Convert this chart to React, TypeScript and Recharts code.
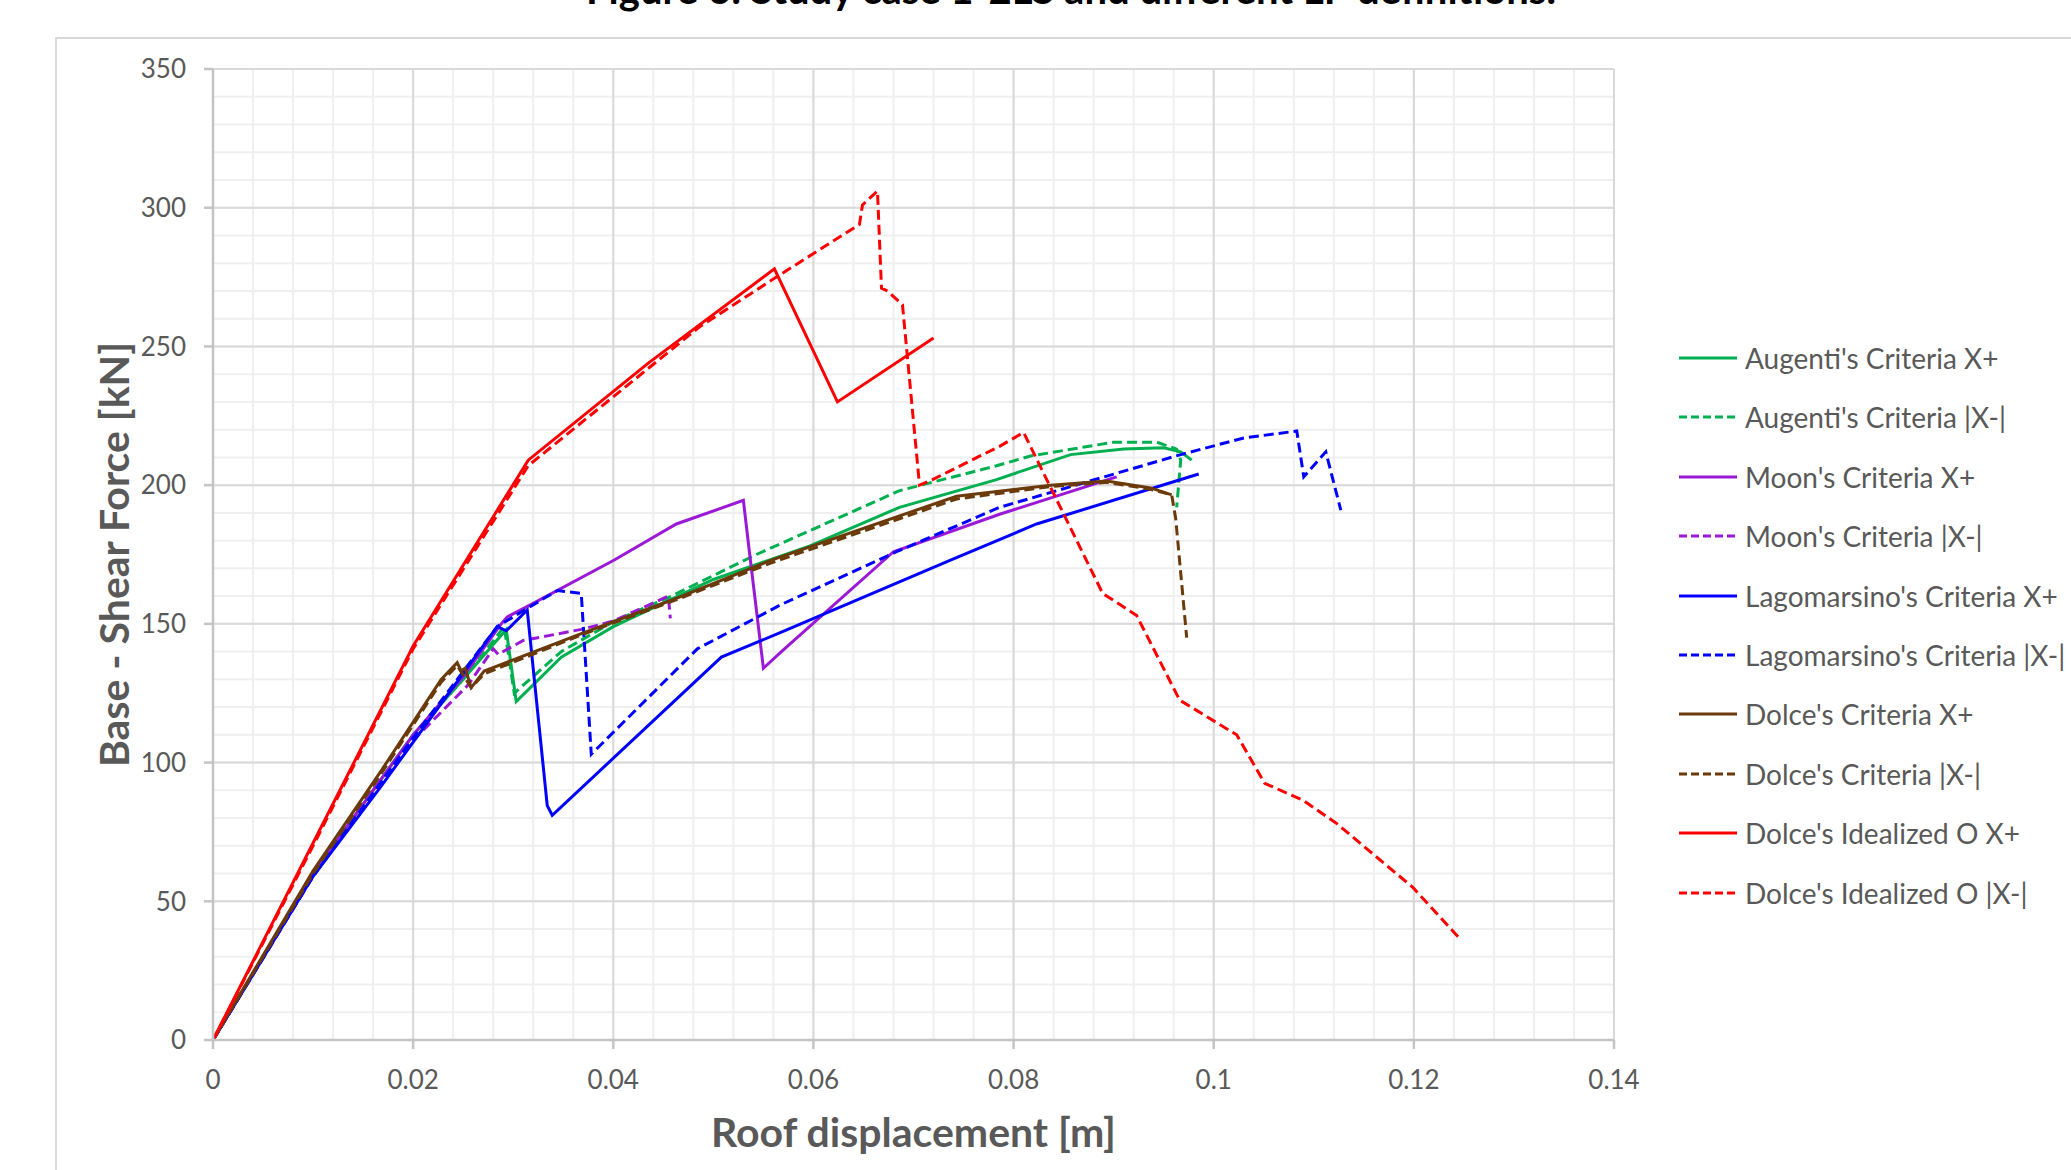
import { CartesianGrid, Line, LineChart, XAxis, YAxis } from 'recharts';

type Pt = [number, number];

// axis ticks
const xTicks = [0, 0.02, 0.04, 0.06, 0.08, 0.1, 0.12, 0.14];
const yTicks = [0, 50, 100, 150, 200, 250, 300, 350];

// pushover curves: [roof displacement m, base shear kN]
const augentiPos: Pt[] = [
  [0, 0], [0.01, 60], [0.02, 110], [0.025, 130], [0.0293, 148], [0.0303, 122],
  [0.0348, 138], [0.04, 149], [0.05, 166], [0.0596, 178], [0.0686, 192],
  [0.0783, 202], [0.0857, 211], [0.091, 213], [0.095, 213.5], [0.0967, 212],
  [0.0978, 209],
];
const augentiNeg: Pt[] = [
  [0, 0], [0.01, 60], [0.02, 110], [0.025, 130], [0.0291, 149], [0.0301, 125],
  [0.0348, 140], [0.0401, 151], [0.0458, 160], [0.0543, 175], [0.0686, 198],
  [0.0783, 207], [0.0817, 210.5], [0.09, 215.5], [0.0943, 215.5], [0.0963, 213],
  [0.0967, 209], [0.0963, 192],
];
const moonPos: Pt[] = [
  [0, 0], [0.01, 60], [0.02, 110], [0.025, 131], [0.0288, 150], [0.0294, 152.5],
  [0.0318, 157], [0.0401, 173], [0.0463, 186], [0.053, 194.5], [0.0536, 176],
  [0.055, 134], [0.0568, 140], [0.068, 176], [0.0786, 189.5], [0.0903, 203],
];
const moonNeg: Pt[] = [
  [0, 0], [0.01, 59], [0.02, 108], [0.0255, 128], [0.028, 141], [0.0285, 139],
  [0.031, 144], [0.0368, 148], [0.04, 151], [0.0455, 160], [0.0457, 152],
];
const lagoPos: Pt[] = [
  [0, 0], [0.01, 59], [0.0167, 91], [0.0284, 149], [0.0293, 147.5], [0.0314, 155],
  [0.0334, 84.5], [0.0339, 81], [0.0508, 138], [0.0568, 147], [0.0737, 173],
  [0.0823, 186], [0.0985, 204],
];
const lagoNeg: Pt[] = [
  [0, 0], [0.01, 59], [0.02, 109], [0.0284, 149], [0.0316, 156], [0.0344, 162],
  [0.0368, 161], [0.0378, 103], [0.0484, 141], [0.0568, 157], [0.0683, 176],
  [0.0786, 192], [0.0967, 211], [0.103, 217], [0.1083, 219.5], [0.109, 203],
  [0.1112, 212], [0.1127, 191],
];
const dolcePos: Pt[] = [
  [0, 0], [0.01, 61], [0.0168, 97], [0.0228, 130], [0.0244, 136], [0.0248, 133],
  [0.0252, 134], [0.0258, 127], [0.0271, 133], [0.0368, 146.5], [0.0458, 158.5],
  [0.0558, 173], [0.0743, 196], [0.0837, 200], [0.0893, 201.5], [0.0937, 199],
  [0.0958, 196.5],
];
const dolceNeg: Pt[] = [
  [0, 0], [0.01, 60], [0.0168, 96], [0.0228, 129], [0.0244, 135], [0.0258, 127],
  [0.0271, 132], [0.0368, 146], [0.0458, 158], [0.0558, 172], [0.0743, 195],
  [0.0837, 199.5], [0.0893, 201], [0.0937, 198.5], [0.0958, 196.5], [0.0962, 188],
  [0.0973, 145],
];
const idealPos: Pt[] = [
  [0, 0], [0.01, 71], [0.02, 142], [0.0315, 209], [0.0435, 244], [0.0561, 278],
  [0.0624, 230], [0.072, 253],
];
const idealNeg: Pt[] = [
  [0, 0], [0.01, 70], [0.02, 141], [0.0315, 207], [0.0486, 257], [0.0563, 275],
  [0.0646, 294], [0.0649, 301], [0.0664, 306], [0.0668, 271], [0.0674, 270],
  [0.0689, 265], [0.0706, 200], [0.0719, 202], [0.0786, 214], [0.081, 219],
  [0.0889, 161], [0.0923, 153], [0.0966, 122.5], [0.1023, 110], [0.1051, 92.5],
  [0.1089, 86.5], [0.1123, 78], [0.1156, 68], [0.1199, 55], [0.1246, 36.5],
];

const GREEN = '#00B050';
const PURPLE = '#9B19D6';
const BLUE = '#0000FF';
const BROWN = '#6B3A0B';
const RED = '#FF0000';

const series = [
  { name: "Augenti's Criteria X+", color: GREEN, dashed: false, pts: augentiPos },
  { name: "Augenti's Criteria |X-|", color: GREEN, dashed: true, pts: augentiNeg },
  { name: "Moon's Criteria X+", color: PURPLE, dashed: false, pts: moonPos },
  { name: "Moon's Criteria |X-|", color: PURPLE, dashed: true, pts: moonNeg },
  { name: "Lagomarsino's Criteria X+", color: BLUE, dashed: false, pts: lagoPos },
  { name: "Lagomarsino's Criteria |X-|", color: BLUE, dashed: true, pts: lagoNeg },
  { name: "Dolce's Criteria X+", color: BROWN, dashed: false, pts: dolcePos },
  { name: "Dolce's Criteria |X-|", color: BROWN, dashed: true, pts: dolceNeg },
  { name: "Dolce's Idealized O X+", color: RED, dashed: false, pts: idealPos },
  { name: "Dolce's Idealized O |X-|", color: RED, dashed: true, pts: idealNeg },
];

const W = 2071;
const H = 1170;
const FONT = 'Lato, "Open Sans", sans-serif';
const TEXT = '#595959';

// minor grid every 0.004 m / 10 kN
const minorX = Array.from({ length: 36 }, (_, i) => +(i * 0.004).toFixed(3));
const minorY = Array.from({ length: 36 }, (_, i) => i * 10);

const fmtX = (v: number) => (v === 0 ? '0' : String(+v.toFixed(2)));

const titleStyle = { fontSize: 41, fontWeight: 700, fill: TEXT, fontFamily: FONT };

export default function App() {
  return (
    <div
      style={{
        position: 'absolute',
        left: 0,
        top: 0,
        width: W,
        height: H,
        overflow: 'hidden',
        background: '#fff',
        fontFamily: FONT,
      }}
    >
      <div
        style={{
          position: 'absolute',
          left: 0,
          width: 2142,
          top: -31,
          textAlign: 'center',
          fontSize: 40,
          lineHeight: '40px',
          fontWeight: 700,
          color: '#000',
          whiteSpace: 'nowrap',
        }}
      >
        Figure 6: Study case 1-2LS and different LP definitions.
      </div>
      <div
        style={{
          position: 'absolute',
          left: 55,
          top: 37,
          width: W - 55,
          height: H - 37,
          borderTop: '2px solid #d9d9d9',
          borderLeft: '2px solid #d9d9d9',
          boxSizing: 'border-box',
        }}
      />
      <div style={{ position: 'absolute', left: 0, top: 0 }}>
        <LineChart
          width={W}
          height={H}
          margin={{ top: 69, right: 457, bottom: 70, left: 93 }}
        >
          <CartesianGrid
            stroke="#efefef"
            strokeWidth={2}
            horizontalValues={minorY}
            verticalValues={minorX}
          />
          <CartesianGrid
            stroke="#d9d9d9"
            strokeWidth={2}
            horizontalValues={yTicks}
            verticalValues={xTicks}
          />
          <XAxis
            type="number"
            dataKey="x"
            domain={[0, 0.14]}
            ticks={xTicks}
            tickFormatter={fmtX}
            height={60}
            tickSize={9}
            tickMargin={22}
            stroke="#c4c4c4"
            strokeWidth={2.5}
            tick={{ fontSize: 26, fill: TEXT, fontFamily: FONT }}
            label={{
              value: 'Roof displacement [m]',
              position: 'bottom',
              offset: 18,
              style: titleStyle,
            }}
          />
          <YAxis
            type="number"
            dataKey="y"
            domain={[0, 350]}
            ticks={yTicks}
            width={120}
            tickSize={9}
            tickMargin={18}
            stroke="#c4c4c4"
            strokeWidth={2.5}
            tick={{ fontSize: 26, fill: TEXT, fontFamily: FONT }}
            label={{
              value: 'Base - Shear Force [kN]',
              angle: -90,
              position: 'insideLeft',
              offset: 21,
              style: { ...titleStyle, textAnchor: 'middle' },
            }}
          />
          {series.map((s) => (
            <Line
              key={s.name}
              name={s.name}
              data={s.pts.map(([x, y]) => ({ x, y }))}
              dataKey="y"
              type="linear"
              stroke={s.color}
              strokeWidth={3}
              strokeDasharray={s.dashed ? '10 5' : undefined}
              dot={false}
              activeDot={false}
              isAnimationActive={false}
            />
          ))}
        </LineChart>
      </div>
      <LegendBox />
    </div>
  );
}

function LegendBox() {
  const step = 59.4;
  return (
    <div style={{ position: 'absolute', left: 1679, top: 358 - step / 2 }}>
      {series.map((s) => (
        <div
          key={s.name}
          style={{ height: step, display: 'flex', alignItems: 'center', whiteSpace: 'nowrap' }}
        >
          <svg width={58} height={8} style={{ flex: 'none' }}>
            <line
              x1={0}
              y1={4}
              x2={58}
              y2={4}
              stroke={s.color}
              strokeWidth={3}
              strokeDasharray={s.dashed ? '8 4' : undefined}
            />
          </svg>
          <span style={{ marginLeft: 8, fontSize: 28, color: TEXT }}>{s.name}</span>
        </div>
      ))}
    </div>
  );
}
